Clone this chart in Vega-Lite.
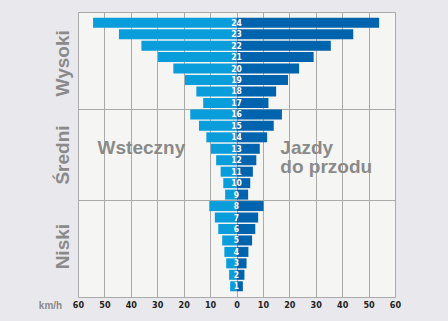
{
  "$schema": "https://vega.github.io/schema/vega-lite/v6.json",
  "width": 317,
  "height": 285,
  "autosize": "none",
  "padding": {"left": 78, "top": 12, "right": 53, "bottom": 24},
  "background": "#e9e9ed",
  "view": {"fill": "#f5f5f3", "stroke": "#aaaaaa", "strokeWidth": 1},
  "datasets": {
    "gears": [
      {"gear": 24, "back": -54.3, "fwd": 54.0},
      {"gear": 23, "back": -44.5, "fwd": 44.2},
      {"gear": 22, "back": -36.0, "fwd": 35.7},
      {"gear": 21, "back": -29.7, "fwd": 29.2},
      {"gear": 20, "back": -23.9, "fwd": 23.7},
      {"gear": 19, "back": -19.5, "fwd": 19.5},
      {"gear": 18, "back": -15.2, "fwd": 15.0},
      {"gear": 17, "back": -12.6, "fwd": 12.1},
      {"gear": 16, "back": -17.5, "fwd": 17.2},
      {"gear": 15, "back": -14.2, "fwd": 14.1},
      {"gear": 14, "back": -11.4, "fwd": 11.6},
      {"gear": 13, "back": -9.7, "fwd": 8.8},
      {"gear": 12, "back": -7.7, "fwd": 7.5},
      {"gear": 11, "back": -6.0, "fwd": 6.2},
      {"gear": 10, "back": -5.0, "fwd": 5.2},
      {"gear": 9, "back": -4.3, "fwd": 4.4},
      {"gear": 8, "back": -10.3, "fwd": 10.2},
      {"gear": 7, "back": -8.2, "fwd": 8.2},
      {"gear": 6, "back": -6.9, "fwd": 7.1},
      {"gear": 5, "back": -5.4, "fwd": 5.9},
      {"gear": 4, "back": -4.6, "fwd": 4.5},
      {"gear": 3, "back": -3.9, "fwd": 3.8},
      {"gear": 2, "back": -2.8, "fwd": 3.0},
      {"gear": 1, "back": -2.4, "fwd": 2.4}
    ],
    "left_notes": [
      {"label": "Wsteczny", "x": -36, "y": 13.1}
    ],
    "right_notes": [
      {"label": "Jazdy\ndo przodu", "x": 16.6, "y": 13.05}
    ]
  },
  "data": {"name": "gears"},
  "layer": [
    {
      "mark": {"type": "bar", "height": 10, "color": "#0a9ddc"},
      "encoding": {
        "y": {
          "field": "gear", "type": "quantitative",
          "scale": {"domain": [0.5, 24.5], "nice": false, "zero": false},
          "axis": {
            "title": null,
            "values": [4.5, 8.5, 12.5, 16.5, 20.5],
            "tickCount": 30,
            "labelExpr": "datum.value == 20.5 ? 'Wysoki' : datum.value == 12.5 ? 'Średni' : datum.value == 4.5 ? 'Niski' : ''",
            "labelAngle": -90,
            "labelAlign": "center",
            "labelBaseline": "bottom",
            "labelPadding": 6,
            "labelOverlap": false,
            "labelFlush": false,
            "labelFont": "Liberation Sans",
            "labelFontWeight": "bold",
            "labelFontSize": 19,
            "labelColor": "#8a8a8a",
            "ticks": false,
            "domain": false,
            "grid": true,
            "gridColor": "#aaaaaa",
            "gridOpacity": {"condition": {"test": "datum.value == 8.5 || datum.value == 16.5", "value": 1}, "value": 0}
          }
        },
        "x": {
          "field": "back", "type": "quantitative",
          "scale": {"domain": [-60, 60], "nice": false},
          "axis": {
            "values": [-60, -50, -40, -30, -20, -10, 0, 10, 20, 30, 40, 50, 60],
            "tickCount": 30,
            "labelExpr": "abs(datum.value)",
            "labelOverlap": false,
            "labelFlush": false,
            "title": "km/h",
            "titleX": -28,
            "titleY": 8,
            "titleAlign": "center",
            "titleBaseline": "middle",
            "titleFont": "Liberation Sans",
            "titleFontWeight": "bold",
            "titleFontSize": 10,
            "titleColor": "#8a8a8a",
            "labelFont": "DejaVu Sans Condensed",
            "labelFontWeight": "bold",
            "labelFontSize": 9,
            "labelColor": "#222222",
            "labelPadding": 3,
            "ticks": false,
            "domain": false,
            "grid": true,
            "gridColor": "#aaaaaa",
            "gridOpacity": 1
          }
        },
        "x2": {"datum": 0}
      }
    },
    {
      "mark": {"type": "bar", "height": 10, "color": "#0063ad"},
      "encoding": {
        "y": {"field": "gear", "type": "quantitative"},
        "x": {"field": "fwd", "type": "quantitative"},
        "x2": {"datum": 0}
      }
    },
    {
      "mark": {"type": "text", "color": "white", "font": "DejaVu Sans Condensed", "fontWeight": "bold", "fontSize": 8.5, "baseline": "middle", "align": "center"},
      "encoding": {
        "y": {"field": "gear", "type": "quantitative"},
        "x": {"datum": 0},
        "text": {"field": "gear", "type": "nominal"}
      }
    },
    {
      "data": {"name": "left_notes"},
      "mark": {"type": "text", "color": "#8a8a8a", "font": "Liberation Sans", "fontWeight": "bold", "fontSize": 19, "baseline": "middle", "align": "center"},
      "encoding": {
        "y": {"field": "y", "type": "quantitative"},
        "x": {"field": "x", "type": "quantitative"},
        "text": {"field": "label", "type": "nominal"}
      }
    },
    {
      "data": {"name": "right_notes"},
      "mark": {"type": "text", "color": "#8a8a8a", "font": "Liberation Sans", "fontWeight": "bold", "fontSize": 19, "baseline": "middle", "align": "left", "lineBreak": "\n", "lineHeight": 19},
      "encoding": {
        "y": {"field": "y", "type": "quantitative"},
        "x": {"field": "x", "type": "quantitative"},
        "text": {"field": "label", "type": "nominal"}
      }
    }
  ]
}
